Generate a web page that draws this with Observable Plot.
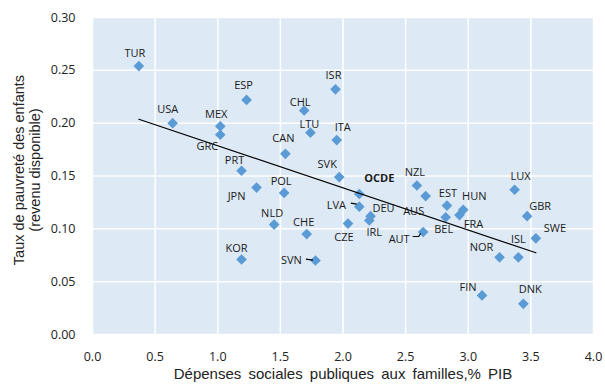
<!DOCTYPE html>
<html><head><meta charset="utf-8">
<script src="https://cdn.jsdelivr.net/npm/d3@7"></script>
<script src="https://cdn.jsdelivr.net/npm/@observablehq/plot@0.6"></script>
<style>body{margin:0;background:#fff}</style>
</head><body><div id="chart"></div>
<script>
// ---- data ----
const countries = ["TUR","USA","MEX","GRC","ESP","ISR","CHL","LTU","ITA","CAN","PRT","JPN","KOR","SVK","POL","NLD","CHE","SVN","OCDE","LVA","CZE","DEU","IRL","NZL","AUS","EST","BEL","HUN","FRA","AUT","LUX","GBR","SWE","NOR","ISL","FIN","DNK"];
const spending = [0.37,0.64,1.02,1.02,1.23,1.94,1.69,1.74,1.95,1.54,1.19,1.31,1.19,1.97,1.53,1.45,1.71,1.78,2.13,2.13,2.04,2.22,2.21,2.59,2.66,2.83,2.82,2.96,2.93,2.64,3.37,3.47,3.54,3.25,3.40,3.11,3.44];
const poverty  = [0.254,0.200,0.197,0.189,0.222,0.232,0.212,0.191,0.184,0.171,0.155,0.139,0.071,0.149,0.134,0.104,0.095,0.070,0.133,0.121,0.105,0.112,0.108,0.141,0.131,0.122,0.111,0.118,0.113,0.097,0.137,0.112,0.091,0.073,0.073,0.037,0.029];
const xTicks = [0,0.5,1,1.5,2,2.5,3,3.5,4];
const yTicks = [0,0.05,0.10,0.15,0.20,0.25,0.30];
const xTitle = "Dépenses sociales publiques aux familles,% PIB";
const yTitle1 = "Taux de pauvreté des enfants";
const yTitle2 = "(revenu disponible)";
const aggregate = "OCDE";

// ---- layout (label offsets in px, leader paths in px relative to point) ----
const labelOffsets = {
  TUR:[-4,-13], USA:[-5,-14], MEX:[-4,-12], GRC:[-13,12], ESP:[-3,-14], ISR:[-2,-14],
  CHL:[-4,-8], LTU:[-1,-8], ITA:[6,-13], CAN:[-2,-15], PRT:[-7,-10], JPN:[-20,9],
  KOR:[-5,-11], SVK:[-12,-13], POL:[-3,-11], NLD:[-2,-11], CHE:[-3,-12], SVN:[-24,0],
  OCDE:[20,-15], LVA:[-23,-1], CZE:[-4,14], DEU:[13,-8], IRL:[5,12], NZL:[-2,-13],
  AUS:[-12,15], EST:[1,-12], BEL:[-2,12], HUN:[11,-13], FRA:[14,9], AUT:[-24,7],
  LUX:[6,-13], GBR:[13,-10], SWE:[19,-10], NOR:[-18,-10], ISL:[0,-18], FIN:[-14,-8], DNK:[7,-14]
};
const leaders = {
  SVN: [[-9,-1],[-2,0]],
  LVA: [[-8,-3],[-2,-2]],
  AUT: [[-10,5],[-4,5],[-2,2]]
};

const data = countries.map((c,i)=>({country:c, x:spending[i], y:poverty[i]}));
const countryData = data.filter(d => d.country !== aggregate);

const labelMarks = data.map(d => Plot.text([d], {
  x:"x", y:"y", text:"country",
  dx: labelOffsets[d.country][0], dy: labelOffsets[d.country][1],
  fontSize: 11, fontFamily: "Open Sans", fill: "#1a1a1a",
  fontWeight: d.country === aggregate ? "bold" : "normal"
}));

function leaderMark(index, scales) {
  const g = d3.create("svg:g");
  data.filter(d => leaders[d.country]).forEach(d => {
    const px = scales.x(d.x), py = scales.y(d.y);
    const pts = leaders[d.country].map(([ox,oy]) => [px+ox, py+oy]);
    g.append("path").attr("d", d3.line()(pts)).attr("fill","none").attr("stroke","#000").attr("stroke-width",1.2);
  });
  return g.node();
}

const chart = Plot.plot({
  width: 605, height: 387,
  marginLeft: 92, marginRight: 12, marginTop: 17, marginBottom: 53,
  style: {fontFamily: "Open Sans", fontSize: "12.5px", color: "#222", background: "#fff"},
  x: {domain:[0,4], ticks: xTicks, tickFormat: d3.format(".1f"), tickSize: 0, tickPadding: 18, label: null},
  y: {domain:[0,0.30], ticks: yTicks, tickFormat: d3.format(".2f"), tickSize: 0, tickPadding: 17, label: null},
  marks: [
    Plot.frame({fill:"#dde9f5", stroke:null}),
    Plot.ruleX(xTicks, {stroke:"#fff", strokeWidth:1.5}),
    Plot.ruleY(yTicks, {stroke:"#fff", strokeWidth:1.5}),
    Plot.dot(data, {x:"x", y:"y", symbol:"diamond2", r:4.8, fill:"#5b9bd5", stroke:null}),
    Plot.linearRegressionY(countryData, {x:"x", y:"y", stroke:"#000", strokeWidth:1.2, ci:0}),
    leaderMark,
    ...labelMarks,
    Plot.text([xTitle], {frameAnchor:"bottom", dy:44, fontSize:15, fontFamily:"Liberation Sans", fill:"#222"}),
    Plot.text([yTitle1], {frameAnchor:"left", textAnchor:"middle", dx:-73, dy:-6, rotate:-90, fontSize:14.5, fontFamily:"Liberation Sans", fill:"#222"}),
    Plot.text([yTitle2], {frameAnchor:"left", textAnchor:"middle", dx:-57, dy:-6, rotate:-90, fontSize:14.5, fontFamily:"Liberation Sans", fill:"#222"})
  ]
});
d3.select(chart).selectAll("text").filter(function(){ return this.textContent === xTitle; }).style("word-spacing","3px");
document.getElementById("chart").appendChild(chart);
</script>
</body></html>
